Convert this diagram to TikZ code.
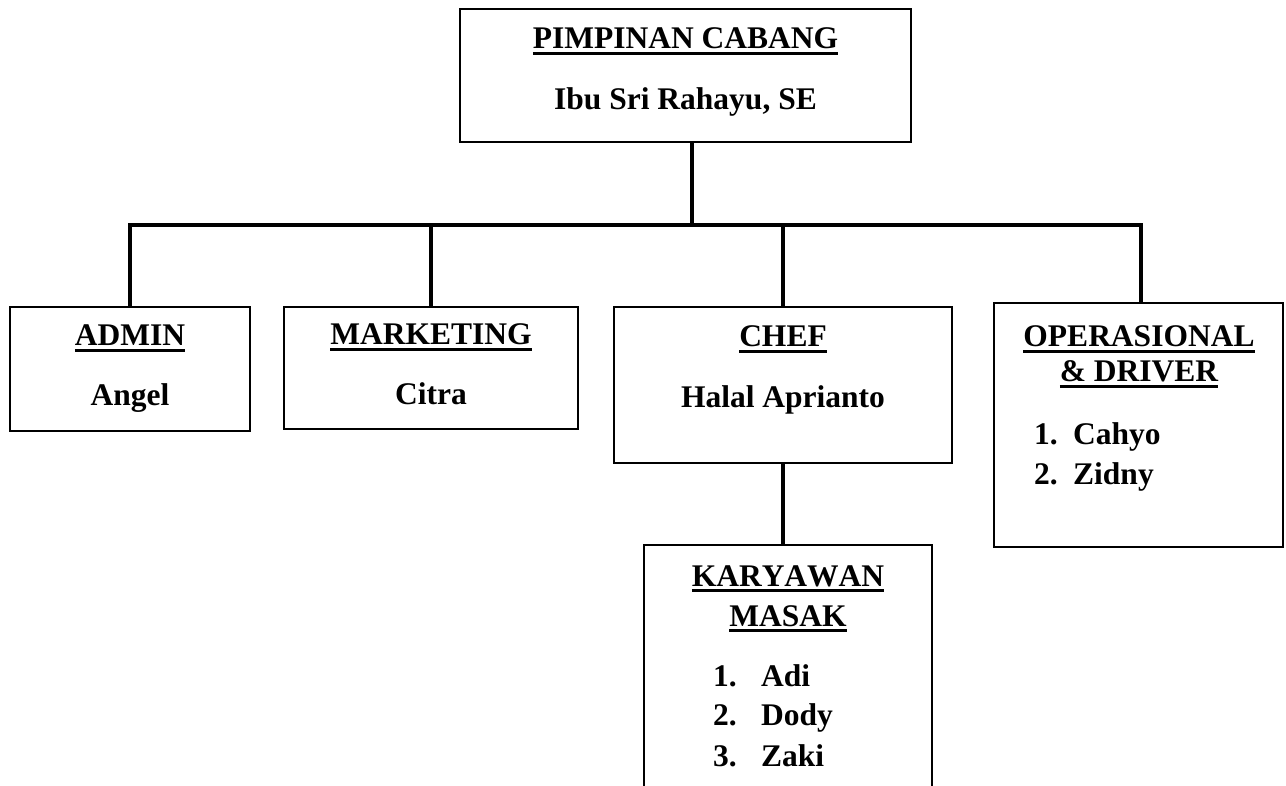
\documentclass[tikz,border=0pt]{standalone}
\usepackage{fontspec}
\setmainfont[Kerning=Off]{Liberation Serif}
\newcommand\fnt{\bfseries\fontsize{31.5}{36}\selectfont}
\newcommand\ulx[1]{\setbox0\hbox{#1}\rlap{\rule[-5.6pt]{\wd0}{3pt}}\box0}
\tikzset{
  box/.style={draw, line width=1.3pt, rectangle, inner sep=0pt},
  conn/.style={line width=3.8pt},
  txt/.style={anchor=base, inner sep=0pt, font=\fnt},
  ltxt/.style={anchor=base west, inner sep=0pt, font=\fnt},
}
\begin{document}
\begin{tikzpicture}[x=1pt,y=-1pt]
\useasboundingbox (0,0) rectangle (1286,786);
\clip (0,0) rectangle (1286,786);
% boxes
\node[box, minimum width=451pt, minimum height=133pt] (top) at (685.5,75.5) {};
\node[box, minimum width=240pt, minimum height=124pt] (admin) at (130,369) {};
\node[box, minimum width=294pt, minimum height=122pt] (mkt) at (431,368) {};
\node[box, minimum width=338pt, minimum height=156pt] (chef) at (783,385) {};
\node[box, minimum width=289pt, minimum height=244pt] (op) at (1138.5,425) {};
\node[box, minimum width=288pt, minimum height=275pt] (kar) at (788,682.5) {};
% connectors
\coordinate (busL) at (130,225);
\coordinate (busR) at (1141,225);
\draw[conn] ([xshift=6.5pt]top.south) -- ([xshift=6.5pt]top.south |- busL);
\draw[conn] (admin.north) |- (busR) -- (busR |- op.north);
\draw[conn] (mkt.north) -- (mkt.north |- busL);
\draw[conn] (chef.north) -- (chef.north |- busL);
\draw[conn] (chef.south) -- (chef.south |- kar.north);
% texts
\node[txt] (t1) at (685.5,49) {\ulx{PIMPINAN CABANG}};
\node[txt] (t2) at (685.5,110) {Ibu Sri Rahayu, SE};
\node[txt] (a1) at (130,346) {\ulx{ADMIN}};
\node[txt] (a2) at (130,406) {Angel};
\node[txt] (m1) at (431,345) {\ulx{MARKETING}};
\node[txt] (m2) at (431,405) {Citra};
\node[txt] (c1) at (783,347) {\ulx{CHEF}};
\node[txt] (c2) at (783,407) {Halal Aprianto};
\node[txt] (o1) at (1139,347) {\ulx{OPERASIONAL}};
\node[txt] (o2) at (1139,382) {\ulx{\& DRIVER}};
\node[ltxt] (o3n) at (1034,444) {1.};
\node[ltxt] (o3) at (1073,444) {Cahyo};
\node[ltxt] (o4n) at (1034,484) {2.};
\node[ltxt] (o4) at (1073,484) {Zidny};
\node[txt] (k1) at (788,586) {\ulx{KARYAWAN}};
\node[txt] (k2) at (788,626) {\ulx{MASAK}};
\node[ltxt] (k3n) at (713,686) {1.};
\node[ltxt] (k3) at (761,686) {Adi};
\node[ltxt] (k4n) at (713,725) {2.};
\node[ltxt] (k4) at (761,725) {Dody};
\node[ltxt] (k5n) at (713,766) {3.};
\node[ltxt] (k5) at (761,766) {Zaki};
\end{tikzpicture}
\end{document}
